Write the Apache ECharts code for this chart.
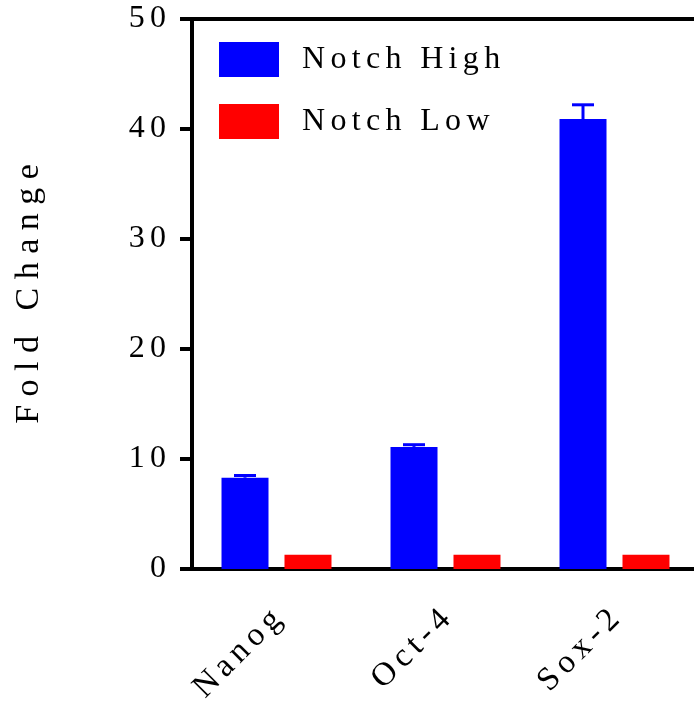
<!DOCTYPE html>
<html>
<head>
<meta charset="utf-8">
<script src="https://cdn.jsdelivr.net/npm/echarts@6/dist/echarts.min.js"></script>
<style>
  html, body { margin: 0; padding: 0; background: #fff; overflow: hidden; }
  #chart { width: 700px; height: 705px; }
</style>
</head>
<body>
<div id="chart"></div>
<script>
// --- data ---
const categories = ['Nanog', 'Oct-4', 'Sox-2'];
const seriesNames = ['Notch High', 'Notch Low'];
const highValues = [8.3, 11.1, 40.9];
const highErrors = [0.2, 0.2, 1.3];
const lowValues = [1.3, 1.3, 1.3];
const yTicks = [0, 10, 20, 30, 40, 50];

// letter spaced text (the original uses wide tracking)
const SIXTH = '\u2006';
function spaced(s, gap) {
    return s.split('').join(gap || SIXTH);
}

const FONT = 'Liberation Serif, Times New Roman, serif';
const BAR_W = 47;
const BAR_GAP = 16;
// centre of the blue bar relative to the category centre
const blueOffset = -(BAR_W * 2 + BAR_GAP) / 2 + BAR_W / 2;

// the plot runs a few px past the right edge of the window, like the original
const chart = echarts.init(document.getElementById('chart'));

chart.setOption({
    animation: false,
    backgroundColor: '#fff',
    textStyle: { fontFamily: FONT, color: '#000' },
    grid: { left: 192, top: 19, right: 1, bottom: 136, containLabel: false, outerBoundsMode: 'none' },
    legend: {
        orient: 'vertical',
        left: 214,
        top: 37,
        data: seriesNames,
        icon: 'rect',
        itemWidth: 60,
        itemHeight: 35,
        itemGap: 27,
        formatter: name => spaced(name),
        textStyle: { fontFamily: FONT, fontSize: 32, color: '#000', padding: [0, 0, 0, 18] }
    },
    xAxis: [{
        type: 'category',
        data: categories,
        axisLine: { lineStyle: { color: '#000', width: 4 } },
        axisTick: { alignWithLabel: true, length: 13, lineStyle: { color: '#000', width: 4 } },
        axisLabel: {
            rotate: 45,
            margin: 46,
            fontFamily: FONT,
            fontSize: 33,
            color: '#000',
            formatter: v => spaced(v)
        }
    }, {
        type: 'category',
        position: 'top',
        data: categories,
        axisLine: { lineStyle: { color: '#000', width: 4 } },
        axisTick: { show: false },
        axisLabel: { show: false }
    }],
    yAxis: {
        type: 'value',
        min: yTicks[0],
        max: yTicks[yTicks.length - 1],
        interval: 10,
        name: spaced('Fold Change', ' '),
        nameLocation: 'middle',
        nameRotate: 90,
        nameGap: 146,
        nameTextStyle: { fontFamily: FONT, fontSize: 34, color: '#000' },
        axisLine: { show: true, lineStyle: { color: '#000', width: 4 } },
        axisTick: { show: true, length: 12, lineStyle: { color: '#000', width: 4 } },
        axisLabel: {
            margin: 26,
            fontFamily: FONT,
            fontSize: 32,
            color: '#000',
            formatter: v => spaced(String(v))
        },
        splitLine: { show: false }
    },
    series: [{
        name: seriesNames[0],
        type: 'bar',
        data: highValues,
        barWidth: BAR_W,
        barGap: (BAR_GAP / BAR_W * 100).toFixed(0) + '%',
        itemStyle: { color: '#0000ff' }
    }, {
        name: seriesNames[1],
        type: 'bar',
        data: lowValues,
        barWidth: BAR_W,
        itemStyle: { color: '#ff0000' }
    }, {
        type: 'custom',
        name: 'err',
        z: 5,
        encode: { x: 0, y: 1 },
        data: categories.map((c, i) => [i, highValues[i], highErrors[i]]),
        renderItem: function (params, api) {
            const i = api.value(0);
            const v = api.value(1);
            const e = api.value(2);
            const base = api.coord([i, v]);
            const top = api.coord([i, v + e]);
            const x = base[0] + blueOffset;
            const style = { stroke: '#0000ff', lineWidth: 3 };
            return {
                type: 'group',
                children: [
                    { type: 'line', shape: { x1: x, y1: base[1], x2: x, y2: top[1] }, style: style },
                    { type: 'line', shape: { x1: x - 11, y1: top[1], x2: x + 11, y2: top[1] }, style: style }
                ]
            };
        }
    }]
});
</script>
</body>
</html>
